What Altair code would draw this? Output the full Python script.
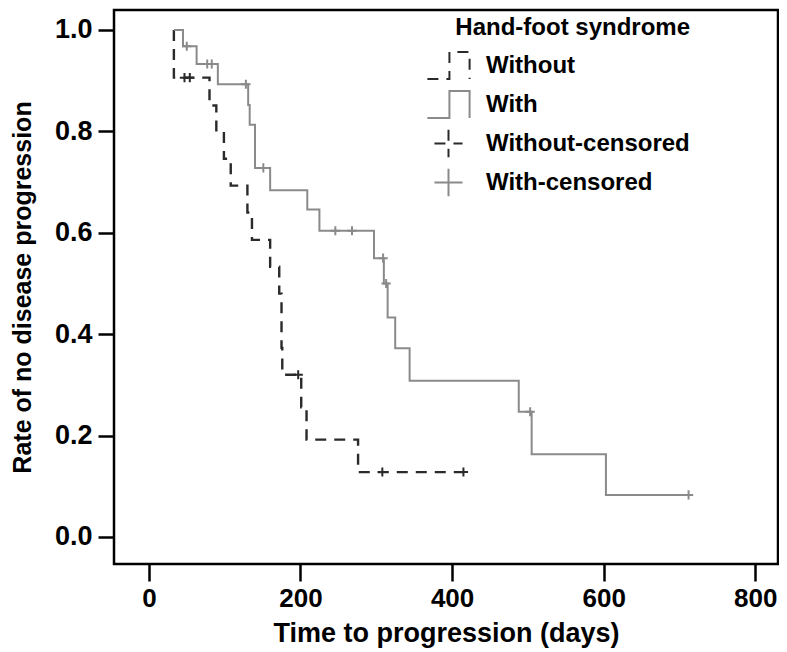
import altair as alt
import pandas as pd

# ---- data ----
categories = ["Without", "With", "Without-censored", "With-censored"]

without_days = [33, 33, 80, 89, 99, 108, 130, 136, 160, 172, 175, 176, 201, 208, 276, 415]
without_rate = [1.0, 0.906, 0.851, 0.799, 0.746, 0.693, 0.640, 0.586, 0.533, 0.480, 0.373, 0.320, 0.256, 0.192, 0.128, 0.128]

with_days = [33, 45, 63, 91, 131, 133, 140, 160, 209, 225, 297, 310, 315, 325, 344, 488, 505, 603, 712]
with_rate = [1.0, 0.968, 0.933, 0.893, 0.852, 0.813, 0.728, 0.684, 0.646, 0.604, 0.550, 0.500, 0.433, 0.372, 0.308, 0.247, 0.163, 0.083, 0.083]

without_cens_days = [47, 54, 197, 308, 415]
without_cens_rate = [0.906, 0.906, 0.320, 0.128, 0.128]

with_cens_days = [50, 77, 83, 128, 151, 246, 268, 309, 313, 503, 712]
with_cens_rate = [0.968, 0.933, 0.933, 0.893, 0.728, 0.604, 0.604, 0.550, 0.500, 0.247, 0.083]

x_ticks = [0, 200, 400, 600, 800]
y_ticks = [0.0, 0.2, 0.4, 0.6, 0.8, 1.0]

# ---- tables ----
line_rows = []
for i, (t, r) in enumerate(zip(without_days, without_rate)):
    line_rows.append({"series": "Without", "day": t, "rate": r, "i": i})
for i, (t, r) in enumerate(zip(with_days, with_rate)):
    line_rows.append({"series": "With", "day": t, "rate": r, "i": i})
lines_df = pd.DataFrame(line_rows)

cens_rows = []
for t, r in zip(without_cens_days, without_cens_rate):
    cens_rows.append({"series": "Without-censored", "day": t, "rate": r})
for t, r in zip(with_cens_days, with_cens_rate):
    cens_rows.append({"series": "With-censored", "day": t, "rate": r})
cens_df = pd.DataFrame(cens_rows)

# ---- styles ----
FONT = "Liberation Sans, Arial, Helvetica, sans-serif"
colors = ["#2a2a2a", "#8a8a8a", "#2a2a2a", "#8a8a8a"]
dashes = [[11, 8], [1, 0], [11, 8], [1, 0]]
step_path = "M-1.14,0.73H0.05V-0.73H1.14V0.73"
plus_path = "M-0.76,0H0.76M0,-0.74V0.74"
shapes = [step_path, step_path, plus_path, plus_path]

color_scale = alt.Scale(domain=categories, range=colors)
dash_scale = alt.Scale(domain=categories, range=dashes)
shape_scale = alt.Scale(domain=categories, range=shapes)

legend = alt.Legend(
    orient="none", legendX=315, legendY=6, padding=0,
    titleFont=FONT, titleFontSize=24, titleFontWeight="bold",
    titleColor="black", titleAnchor="end", titlePadding=6, titleLimit=400,
    labelFont=FONT, labelFontSize=24, labelFontWeight="bold",
    labelColor="black", labelOffset=18, labelLimit=400,
    symbolSize=1369, symbolStrokeWidth=2, rowPadding=1,
)
LTITLE = "Hand-foot syndrome"

x_enc = alt.X(
    "day:Q",
    scale=alt.Scale(domain=[-46, 830], nice=False, zero=False),
    axis=alt.Axis(
        values=x_ticks, title="Time to progression (days)", grid=False, domain=False,
        labelFont=FONT, labelFontSize=26, labelFontWeight="bold",
        labelColor="black", labelPadding=4, tickSize=17, tickWidth=2.5, tickColor="black",
        titleFont=FONT, titleFontSize=27, titleFontWeight="bold",
        titleColor="black", titlePadding=9,
    ),
)
y_enc = alt.Y(
    "rate:Q",
    scale=alt.Scale(domain=[-0.0533, 1.0394], nice=False, zero=False),
    axis=alt.Axis(
        values=y_ticks, format=".1f", title="Rate of no disease progression",
        grid=False, domain=False,
        labelFont=FONT, labelFontSize=27, labelFontWeight="bold",
        labelColor="black", labelPadding=6, tickSize=16, tickWidth=2.5, tickColor="black",
        titleFont=FONT, titleFontSize=25, titleFontWeight="bold",
        titleColor="black", titlePadding=19,
    ),
)

base_lines = alt.Chart(lines_df)

line_without = base_lines.mark_line(interpolate="step-after", strokeWidth=2.4).encode(
    x=x_enc, y=y_enc,
    color=alt.Color("series:N", scale=color_scale, title=LTITLE, legend=legend),
    strokeDash=alt.StrokeDash("series:N", scale=dash_scale, title=LTITLE, legend=legend),
    order="i:Q",
).transform_filter(alt.datum.series == "Without")

line_with = base_lines.mark_line(interpolate="step-after", strokeWidth=2).encode(
    x=x_enc, y=y_enc,
    color=alt.Color("series:N", scale=color_scale, title=LTITLE, legend=legend),
    strokeDash=alt.StrokeDash("series:N", scale=dash_scale, title=LTITLE, legend=legend),
    order="i:Q",
).transform_filter(alt.datum.series == "With")

points = alt.Chart(cens_df).mark_point(filled=False, size=150, strokeWidth=2, opacity=1).encode(
    x=x_enc, y=y_enc,
    color=alt.Color("series:N", scale=color_scale, title=LTITLE, legend=legend),
    shape=alt.Shape("series:N", scale=shape_scale, title=LTITLE, legend=legend),
    strokeDash=alt.StrokeDash("series:N", scale=dash_scale, title=LTITLE, legend=legend),
)

chart = alt.layer(points, line_without, line_with).properties(
    width=664, height=554,
    autosize=alt.AutoSizeParams(type="none"),
    padding={"left": 106, "top": 2, "right": 1, "bottom": 86},
).configure(
    font=FONT, background="white",
).configure_view(
    stroke="black", strokeWidth=2.5, fill="white",
)

chart.save("out.html", embed_options={"renderer": "svg", "actions": False})
